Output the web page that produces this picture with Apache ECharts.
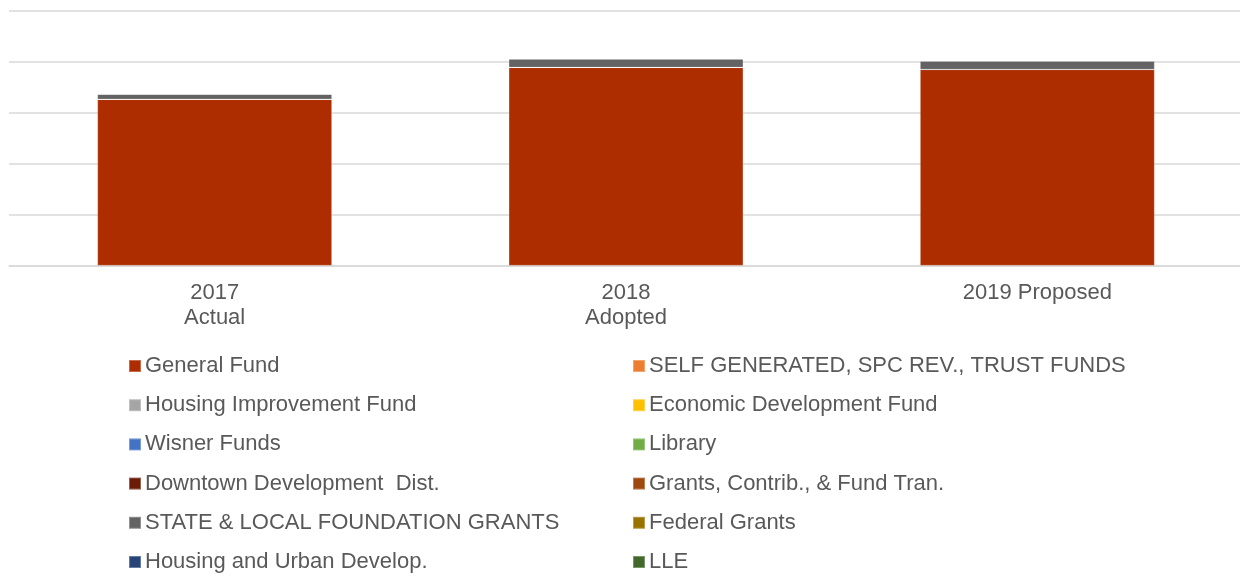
<!DOCTYPE html>
<html>
<head>
<meta charset="utf-8">
<script src="https://cdn.jsdelivr.net/npm/echarts@6/dist/echarts.min.js"></script>
<style>
  html, body { margin: 0; padding: 0; background: #ffffff; overflow: hidden; }
  #chart { width: 1244px; height: 587px; }
</style>
</head>
<body>
<div id="chart"></div>
<script>
// Budget categories along the x axis
var categories = ['2017\nActual', '2018\nAdopted', '2019 Proposed'];

// Funding sources (in $ millions), in legend order
var seriesNames = [
  'General Fund',
  'SELF GENERATED, SPC REV., TRUST FUNDS',
  'Housing Improvement Fund',
  'Economic Development Fund',
  'Wisner Funds',
  'Library',
  'Downtown Development  Dist.',
  'Grants, Contrib., & Fund Tran.',
  'STATE & LOCAL FOUNDATION GRANTS',
  'Federal Grants',
  'Housing and Urban Develop.',
  'LLE'
];

var generalFund          = [16.3, 19.42, 19.22];
var selfGenerated        = [0, 0, 0];
var housingImprovement   = [0, 0, 0];
var economicDevelopment  = [0, 0, 0];
var wisnerFunds          = [0, 0, 0];
var library              = [0, 0, 0];
var downtownDevelopment  = [0, 0, 0];
var grantsContrib        = [0, 0, 0];
var stateLocalGrants     = [0.5, 0.84, 0.84];
var federalGrants        = [0, 0, 0];
var hud                  = [0, 0, 0];
var lle                  = [0, 0, 0];

var seriesValues = [
  generalFund, selfGenerated, housingImprovement, economicDevelopment,
  wisnerFunds, library, downtownDevelopment, grantsContrib,
  stateLocalGrants, federalGrants, hud, lle
];

var seriesColors = [
  '#AE2D00', '#ED7D31', '#A5A5A5', '#FFC000',
  '#4472C4', '#70AD47', '#6B1C08', '#9E480E',
  '#636363', '#997300', '#264478', '#43682B'
];

var FONT = '"Liberation Sans", Arial, sans-serif';
var TEXT_COLOR = '#595959';

var series = seriesNames.map(function (name, i) {
  return {
    name: name,
    type: 'bar',
    stack: 'total',
    barWidth: '57%',
    data: seriesValues[i],
    itemStyle: {
      color: seriesColors[i],
      borderColor: 'rgba(255,255,255,0.3)',
      borderWidth: 0.6
    },
    emphasis: { disabled: true }
  };
});

function legendBlock(names, left) {
  return {
    orient: 'vertical',
    left: left,
    top: 355,
    padding: 0,
    icon: 'rect',
    itemWidth: 12,
    itemHeight: 12,
    itemGap: 17.2,
    selectedMode: false,
    textStyle: {
      fontFamily: FONT,
      fontSize: 22,
      lineHeight: 22,
      color: TEXT_COLOR,
      padding: [0, 0, 0, -1]
    },
    data: names
  };
}

var leftNames = seriesNames.filter(function (n, i) { return i % 2 === 0; });
var rightNames = seriesNames.filter(function (n, i) { return i % 2 === 1; });

var chart = echarts.init(document.getElementById('chart'), null, { renderer: 'canvas' });
chart.setOption({
  animation: false,
  backgroundColor: '#ffffff',
  grid: { left: 9, top: 10.5, width: 1234, height: 255, containLabel: false },
  legend: [legendBlock(leftNames, 128), legendBlock(rightNames, 632)],
  xAxis: {
    type: 'category',
    data: categories,
    axisLine: { show: true, lineStyle: { color: '#d9d9d9', width: 1.5 } },
    axisTick: { show: false },
    axisLabel: {
      fontFamily: FONT,
      fontSize: 22,
      lineHeight: 25,
      color: TEXT_COLOR,
      margin: 15
    }
  },
  yAxis: {
    type: 'value',
    min: 0,
    max: 25,
    interval: 5,
    axisLabel: { show: false },
    axisLine: { show: false },
    axisTick: { show: false },
    splitLine: { lineStyle: { color: '#d9d9d9', width: 1.5 } }
  },
  series: series
});
</script>
</body>
</html>
